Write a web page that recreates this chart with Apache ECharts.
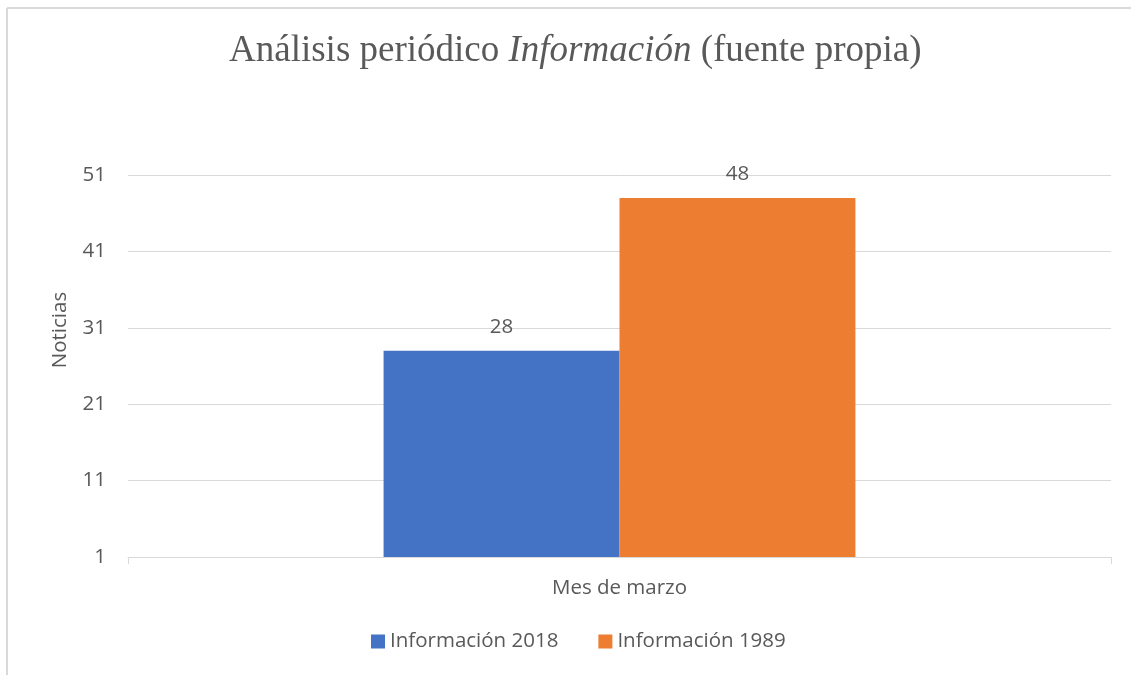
<!DOCTYPE html>
<html>
<head>
    <meta charset="UTF-8">
    <title>Análisis periódico Información</title>
    <style>
        html, body { margin: 0; padding: 0; background: #fff; }
        #box { width: 1131px; height: 675px; }
    </style>
    <script src="https://cdn.jsdelivr.net/npm/echarts@6/dist/echarts.min.js"></script>
</head>
<body>
<div id="box"></div>
<script>
    // datos
    var categories = ['Mes de marzo'];
    var seriesNames = ['Información 2018', 'Información 1989'];
    var values2018 = [28];
    var values1989 = [48];
    var yTicks = { min: 1, max: 51, step: 10 };

    var textColor = '#595959';
    var sansFont = '"Open Sans", sans-serif';
    var fs = 20.5;

    var myChart = echarts.init(document.getElementById('box'));
    var option = {
        backgroundColor: '#fff',
        animation: false,
        title: {
            text: '{n|Análisis periódico }{i|Información}{n| (fuente propia)}',
            left: 224,
            top: 28,
            textStyle: {
                rich: {
                    n: { fontFamily: '"Liberation Serif", serif', fontSize: 37, fontWeight: 'normal', color: textColor },
                    i: { fontFamily: '"Liberation Serif", serif', fontSize: 37, fontWeight: 'normal', color: textColor, fontStyle: 'italic' }
                }
            }
        },
        // marco del gráfico
        graphic: [
            { type: 'line', shape: { x1: 7, y1: 8, x2: 1131, y2: 8 }, style: { stroke: '#d9d9d9', lineWidth: 2 } },
            { type: 'line', shape: { x1: 7, y1: 8, x2: 7, y2: 675 }, style: { stroke: '#d9d9d9', lineWidth: 2 } }
        ],
        legend: {
            data: seriesNames,
            bottom: 18,
            left: 366,
            itemWidth: 14,
            itemHeight: 14,
            itemGap: 40,
            icon: 'rect',
            textStyle: { color: textColor, fontSize: fs, fontFamily: sansFont }
        },
        grid: {
            left: 128,
            right: 20,
            top: 175,
            bottom: 118
        },
        xAxis: {
            type: 'category',
            data: categories,
            axisLine: { lineStyle: { color: '#d9d9d9' } },
            axisTick: { show: true, length: 7, lineStyle: { color: '#d9d9d9' } },
            axisLabel: { color: textColor, fontSize: fs, fontFamily: sansFont, margin: 21 }
        },
        yAxis: {
            type: 'value',
            min: yTicks.min,
            max: yTicks.max,
            interval: yTicks.step,
            name: 'Noticias',
            nameLocation: 'middle',
            nameGap: 57,
            nameTextStyle: { color: textColor, fontSize: fs, fontFamily: sansFont, padding: [0, 0, 0, 72] },
            axisLine: { show: false },
            axisTick: { show: false },
            axisLabel: { color: textColor, fontSize: fs, fontFamily: sansFont, margin: 22 },
            splitLine: { lineStyle: { color: '#d9d9d9', width: 1 } }
        },
        series: [
            {
                name: seriesNames[0],
                type: 'bar',
                data: values2018,
                barGap: '0%',
                barCategoryGap: '52%',
                itemStyle: { color: '#4472C4' },
                label: { show: true, position: 'top', distance: 13, color: textColor, fontSize: fs, fontFamily: sansFont }
            },
            {
                name: seriesNames[1],
                type: 'bar',
                data: values1989,
                barGap: '0%',
                barCategoryGap: '52%',
                itemStyle: { color: '#ED7D31' },
                label: { show: true, position: 'top', distance: 13, color: textColor, fontSize: fs, fontFamily: sansFont }
            }
        ]
    };
    myChart.setOption(option);
</script>
</body>
</html>
